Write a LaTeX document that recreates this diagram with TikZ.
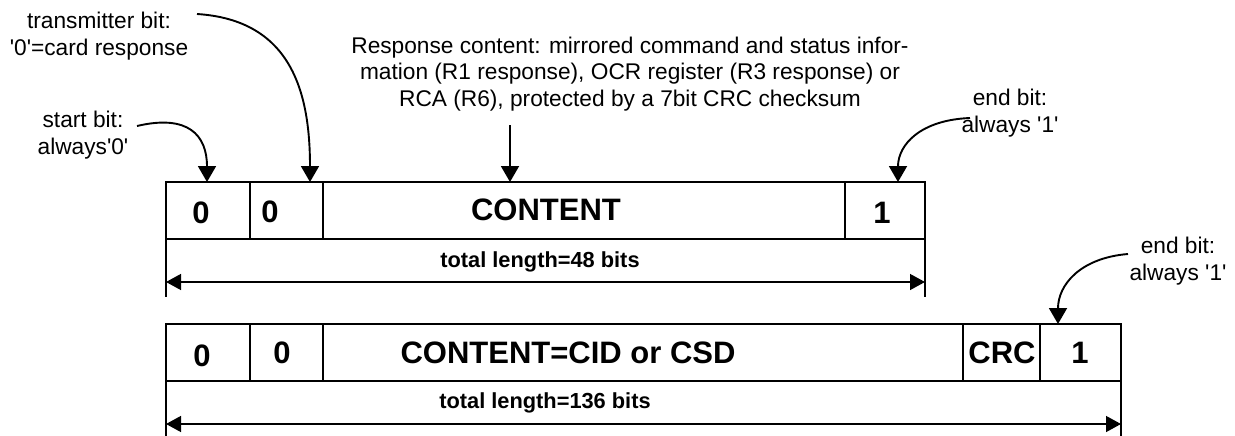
\documentclass[tikz,border=0pt]{standalone}
\usepackage{fontspec}
\setmainfont{Liberation Sans}
\usetikzlibrary{arrows.meta,calc}
\newcommand{\sq}{\textquotesingle}
\begin{document}
\begin{tikzpicture}[x=1pt,y=-1pt,
  cell/.style={draw,line width=1.4pt,inner sep=0pt,outer sep=0pt,minimum height=57pt},
  bigtxt/.style={font=\fontsize{31}{31}\selectfont\bfseries,inner sep=0pt},
  lentxt/.style={font=\fontsize{21.8}{21.8}\selectfont\bfseries,inner sep=0pt,anchor=base},
  note/.style={font=\fontsize{22.7}{26.5}\selectfont,align=center,inner sep=0pt},
  ptr/.style={line width=1.9pt,-{Triangle[length=16pt,width=18pt]}},
  dim/.style={line width=1.4pt,{Triangle[length=15pt,width=16pt]}-{Triangle[length=15pt,width=16pt]}},
  ext/.style={line width=1.4pt}]
\useasboundingbox (0,0) rectangle (1235,436);

% ---------- top frame (48 bits) ----------
\node[cell,minimum width=84pt]  (t0) at (208,210.5) {};
\node[cell,minimum width=73pt]  (t1) at (286.5,210.5) {};
\node[cell,minimum width=522pt] (t2) at (584,210.5) {};
\node[cell,minimum width=80pt]  (t3) at (885,210.5) {};

\node[bigtxt] (t0txt) at (201,213) {0};
\node[bigtxt] (t1txt) at (270,212) {0};
\node[bigtxt] (t2txt) at (546,210) {CONTENT};
\node[bigtxt] (t3txt) at (882,213) {1};

\coordinate (tl) at (166,297);
\coordinate (tr) at (925,297);
\draw[ext] (t0.south west) -- (tl);
\draw[ext] (t3.south east) -- (tr);
\coordinate (tda) at (166,282);
\coordinate (tdb) at (925,282);
\draw[dim] (tda) -- (tdb);
\node[lentxt] (tlen) at (540,267) {total length=48 bits};

% ---------- bottom frame (136 bits) ----------
\node[cell,minimum width=84pt]  (b0) at (208,352.5) {};
\node[cell,minimum width=73pt]  (b1) at (286.5,352.5) {};
\node[cell,minimum width=640pt] (b2) at (643,352.5) {};
\node[cell,minimum width=77pt]  (b3) at (1001.5,352.5) {};
\node[cell,minimum width=81pt]  (b4) at (1080.5,352.5) {};

\node[bigtxt] (b0txt) at (202,356) {0};
\node[bigtxt] (b1txt) at (282,353) {0};
\node[bigtxt] (b2txt) at (568,353) {CONTENT=CID or CSD};
\node[bigtxt] (b3txt) at (1002,353) {CRC};
\node[bigtxt] (b4txt) at (1080,353) {1};

\coordinate (bl) at (166,436);
\coordinate (br) at (1121,436);
\draw[ext] (b0.south west) -- (bl);
\draw[ext] (b4.south east) -- (br);
\coordinate (bda) at (166,424);
\coordinate (bdb) at (1121,424);
\draw[dim] (bda) -- (bdb);
\node[lentxt] (blen) at (545,408) {total length=136 bits};

% ---------- annotations ----------
\node[note] (trans) at (99,36) {transmitter bit:\\\sq0\sq=card response};
\node[note] (start) at (83,135) {start bit:\\always\sq0\sq};
\node[note] (resp) at (630,74) {Response content: mirrored command and status infor-\\mation (R1 response), OCR register (R3 response) or\\RCA (R6), protected by a 7bit CRC checksum};
\node[note] (endt) at (1010,113) {end bit:\\always \sq1\sq};
\node[note] (endb) at (1178,261) {end bit:\\always \sq1\sq};

\coordinate (startp) at (137,126);
\coordinate (transp) at (197,14);
\coordinate (respp) at (510,125);
\coordinate (endtp) at (970,118);
\coordinate (endbp) at (1128,254);

\draw[ptr] (startp) .. controls (188,114) and (207,135) .. ($(t0.north)+(-1,0)$);
\draw[ptr] (transp) .. controls (290,20) and (310,90) .. ($(t1.north east)+(-13,0)$);
\draw[ptr] (respp) -- ($(t2.north west)+(187,0)$);
\draw[ptr] (endtp) .. controls (920,120) and (898,145) .. ($(t3.north)+(13,0)$);
\draw[ptr] (endbp) .. controls (1080,258) and (1058,285) .. ($(b4.north west)+(18,0)$);
\end{tikzpicture}
\end{document}
